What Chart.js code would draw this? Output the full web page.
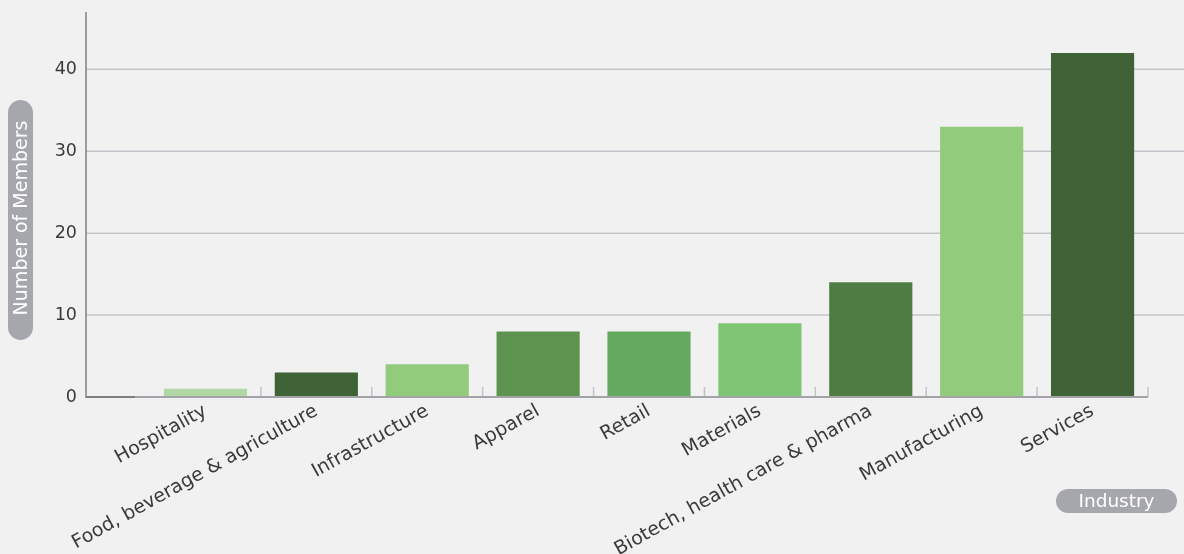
<!DOCTYPE html>
<html>
<head>
<meta charset="utf-8">
<script src="https://cdn.jsdelivr.net/npm/chart.js@4"></script>
<style>
  html, body { margin: 0; padding: 0; background: #f1f1f1; }
</style>
</head>
<body>
<canvas id="chart" width="1184" height="554"></canvas>
<script>
// data
const industries = ["Hospitality", "Food, beverage & agriculture", "Infrastructure", "Apparel", "Retail",
  "Materials", "Biotech, health care & pharma", "Manufacturing", "Services"];
const members = [1, 3, 4, 8, 8, 9, 14, 33, 42];
const barColors = ["rgb(176,216,164)", "rgb(63,98,54)", "rgb(146,203,124)", "rgb(94,147,79)", "rgb(100,170,94)",
  "rgb(126,197,116)", "rgb(79,124,66)", "rgb(146,203,124)", "rgb(63,98,54)"];
const yTicks = [0, 10, 20, 30, 40];
const yTitle = "Number of Members";
const xTitle = "Industry";

const FONT = "'DejaVu Sans', 'Open Sans', sans-serif";
const AXIS_X = 86; // the y axis line sits left of the bars

// grid, axis lines, little ticks and the two grey pill titles
const decor = {
  id: 'decor',
  beforeDatasetsDraw(chart) {
    const { ctx, scales: { y } } = chart;
    ctx.save();
    ctx.strokeStyle = '#c4c4cb';
    ctx.lineWidth = 1.5;
    yTicks.forEach(v => {
      if (v === 0) return;
      const py = y.getPixelForValue(v);
      ctx.beginPath();
      ctx.moveTo(AXIS_X, py);
      ctx.lineTo(chart.width, py);
      ctx.stroke();
    });
    ctx.restore();
  },
  afterDatasetsDraw(chart) {
    const { ctx, chartArea, scales: { x, y } } = chart;
    const base = y.getPixelForValue(0);
    ctx.save();
    // small ticks after each category
    ctx.strokeStyle = '#c2c2c8';
    ctx.lineWidth = 1.5;
    const step = x.getPixelForTick(1) - x.getPixelForTick(0);
    industries.forEach((_, i) => {
      const px = x.getPixelForTick(i) + step / 2;
      ctx.beginPath();
      ctx.moveTo(px, base - 10);
      ctx.lineTo(px, base);
      ctx.stroke();
    });
    // x axis line
    ctx.strokeStyle = '#a2a2a8';
    ctx.lineWidth = 2;
    ctx.beginPath();
    ctx.moveTo(AXIS_X, base);
    ctx.lineTo(chartArea.right, base);
    ctx.stroke();
    ctx.strokeStyle = '#808080';
    ctx.beginPath();
    ctx.moveTo(AXIS_X, base);
    ctx.lineTo(135, base);
    ctx.stroke();
    // y axis line
    ctx.lineWidth = 1.5;
    ctx.beginPath();
    ctx.moveTo(AXIS_X, chartArea.top);
    ctx.lineTo(AXIS_X, base + 1);
    ctx.stroke();
    ctx.restore();
  },
  afterDraw(chart) {
    const { ctx } = chart;
    ctx.save();
    ctx.fillStyle = '#a5a7ad';
    ctx.beginPath();
    ctx.roundRect(8, 100, 25, 240, 12.5);
    ctx.fill();
    ctx.beginPath();
    ctx.roundRect(1056, 489, 121, 24, 12);
    ctx.fill();
    ctx.fillStyle = '#ffffff';
    ctx.textAlign = 'center';
    ctx.textBaseline = 'middle';
    ctx.font = "18.5px " + FONT;
    ctx.fillText(xTitle, 1116.5, 502);
    ctx.font = "19px " + FONT;
    ctx.translate(21, 218);
    ctx.rotate(-Math.PI / 2);
    ctx.fillText(yTitle, 0, 1);
    ctx.restore();
  }
};

const ctx = document.getElementById("chart");
new Chart(ctx, {
  type: 'bar',
  data: {
    labels: industries,
    datasets: [{
      label: yTitle,
      data: members,
      backgroundColor: barColors,
      borderWidth: 0,
      barPercentage: 0.75,
      categoryPercentage: 1
    }]
  },
  options: {
    responsive: false,
    animation: false,
    layout: { padding: { top: 12, right: 36, bottom: 0, left: 0 } },
    plugins: {
      legend: { display: false },
      tooltip: { enabled: false }
    },
    scales: {
      x: {
        afterFit: s => { s.height = 157; s.paddingLeft = 0; s.paddingRight = 0; },
        grid: { display: false, drawTicks: false },
        border: { display: false },
        ticks: {
          autoSkip: false,
          maxRotation: 29,
          minRotation: 29,
          padding: 3,
          color: '#3a3a3a',
          font: { family: FONT, size: 19 }
        }
      },
      y: {
        min: 0,
        max: 47,
        afterBuildTicks: axis => { axis.ticks = yTicks.map(v => ({ value: v })); },
        afterFit: s => { s.width = 150; s.paddingTop = 0; s.paddingBottom = 0; },
        grid: { display: false, drawTicks: false },
        border: { display: false },
        ticks: {
          padding: 73,
          color: '#3a3a3a',
          font: { family: FONT, size: 17.5 }
        }
      }
    }
  },
  plugins: [decor]
});
</script>
</body>
</html>
